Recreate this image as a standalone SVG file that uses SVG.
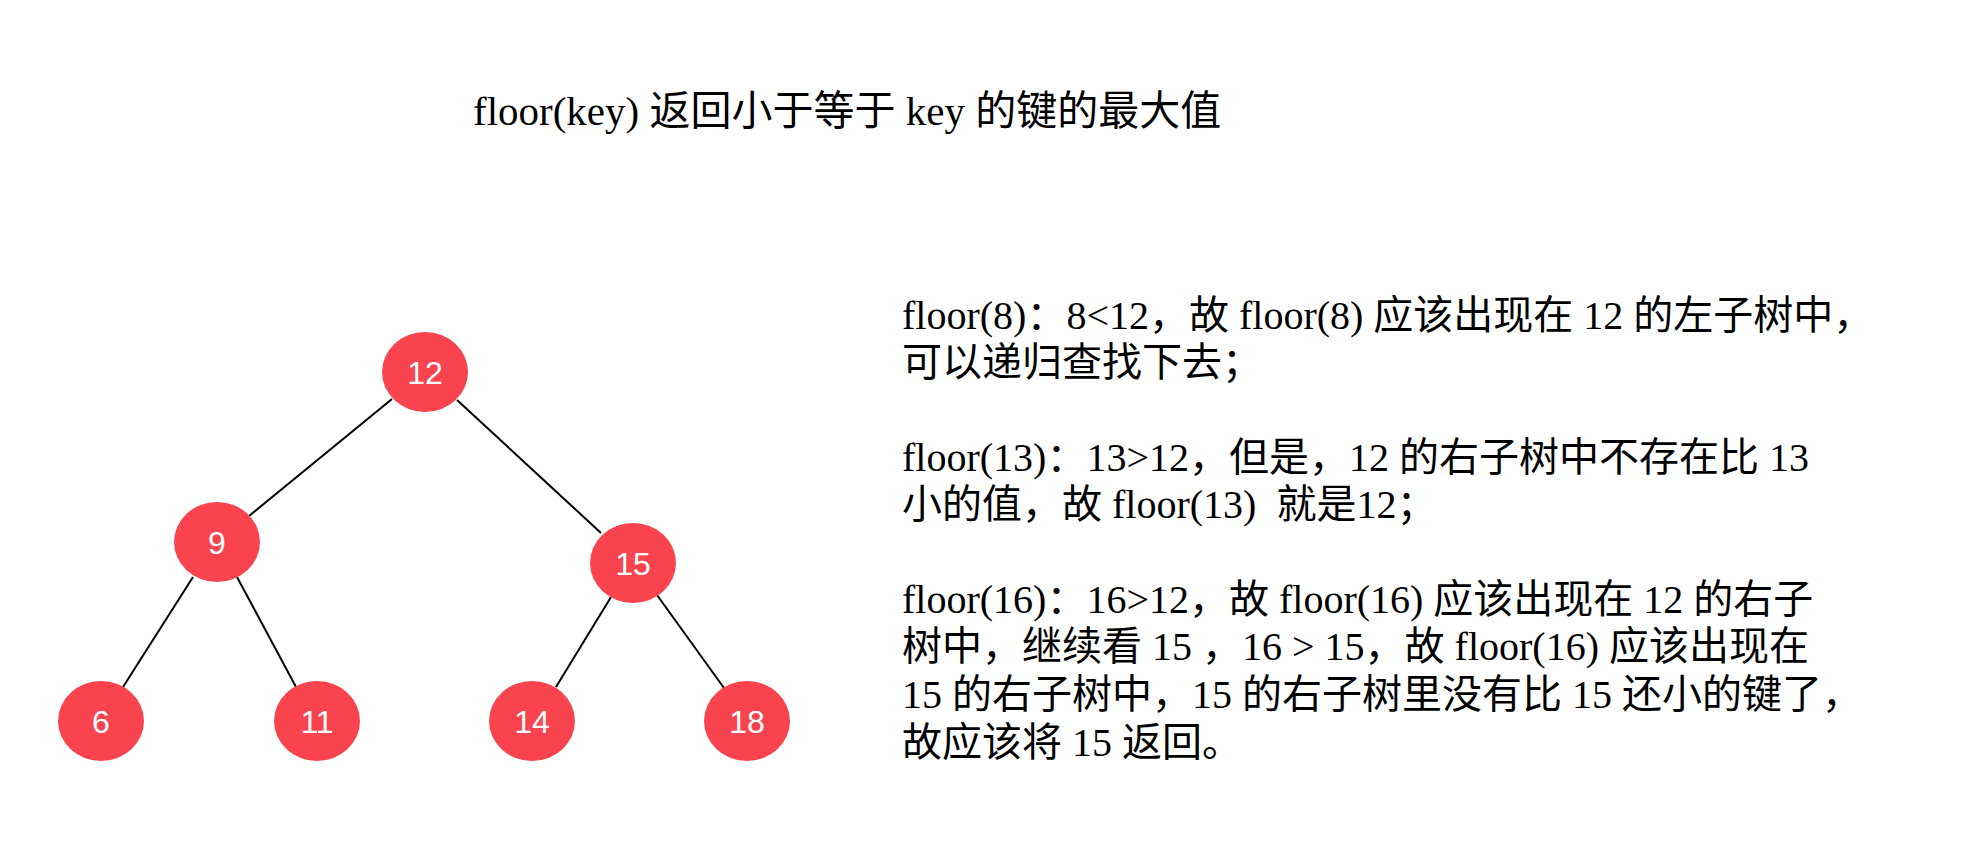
<svg xmlns="http://www.w3.org/2000/svg" width="1978" height="864" viewBox="0 0 1978 864">
<style>
.bg{fill:#ffffff}
.node ellipse{fill:#f9444f;stroke:none}
.node text{font-family:"Liberation Sans",Arial,sans-serif;font-size:32px;fill:#ffffff;text-anchor:middle}
.edge{stroke:#000000;stroke-width:2;fill:none}
.t{font-family:"Liberation Serif","Noto Sans CJK SC",serif;font-size:40px;fill:#000000;white-space:pre}
.title{font-size:41px}
</style>
<rect class="bg" x="0" y="0" width="1978" height="864"/>
<text id="title" class="t title" x="473" y="125">floor(key) 返回小于等于 key 的键的最大值</text>
<g id="connectors">
<line class="edge" x1="392" y1="399" x2="249" y2="516"/>
<line class="edge" x1="457" y1="400" x2="601" y2="533"/>
<line class="edge" x1="193" y1="577" x2="123" y2="687"/>
<line class="edge" x1="237" y1="577" x2="296" y2="687"/>
<line class="edge" x1="611" y1="597" x2="556" y2="687"/>
<line class="edge" x1="657" y1="595" x2="724" y2="688"/>
</g>
<g id="n12" class="node"><ellipse cx="425" cy="372" rx="43" ry="40"/><text x="425" y="384">12</text></g>
<g id="n9" class="node"><ellipse cx="217" cy="542" rx="43" ry="40"/><text x="217" y="554">9</text></g>
<g id="n15" class="node"><ellipse cx="633" cy="563" rx="43" ry="40"/><text x="633" y="575">15</text></g>
<g id="n6" class="node"><ellipse cx="101" cy="721" rx="43" ry="40"/><text x="101" y="733">6</text></g>
<g id="n11" class="node"><ellipse cx="317" cy="721" rx="43" ry="40"/><text x="317" y="733">11</text></g>
<g id="n14" class="node"><ellipse cx="532" cy="721" rx="43" ry="40"/><text x="532" y="733">14</text></g>
<g id="n18" class="node"><ellipse cx="747" cy="721" rx="43" ry="40"/><text x="747" y="733">18</text></g>
<g id="explanation">
<text class="t" x="902" y="329">floor(8)：8&lt;12，故 floor(8) 应该出现在 12 的左子树中，</text>
<text class="t" x="902" y="376">可以递归查找下去；</text>
<text class="t" x="902" y="471">floor(13)：13&gt;12，但是，12 的右子树中不存在比 13</text>
<text class="t" x="902" y="518">小的值，故 floor(13)  就是12；</text>
<text class="t" x="902" y="613">floor(16)：16&gt;12，故 floor(16) 应该出现在 12 的右子</text>
<text class="t" x="902" y="660">树中，继续看 15 ，16 &gt; 15，故 floor(16) 应该出现在</text>
<text class="t" x="902" y="708">15 的右子树中，15 的右子树里没有比 15 还小的键了，</text>
<text class="t" x="902" y="756">故应该将 15 返回。</text>
</g>
</svg>
